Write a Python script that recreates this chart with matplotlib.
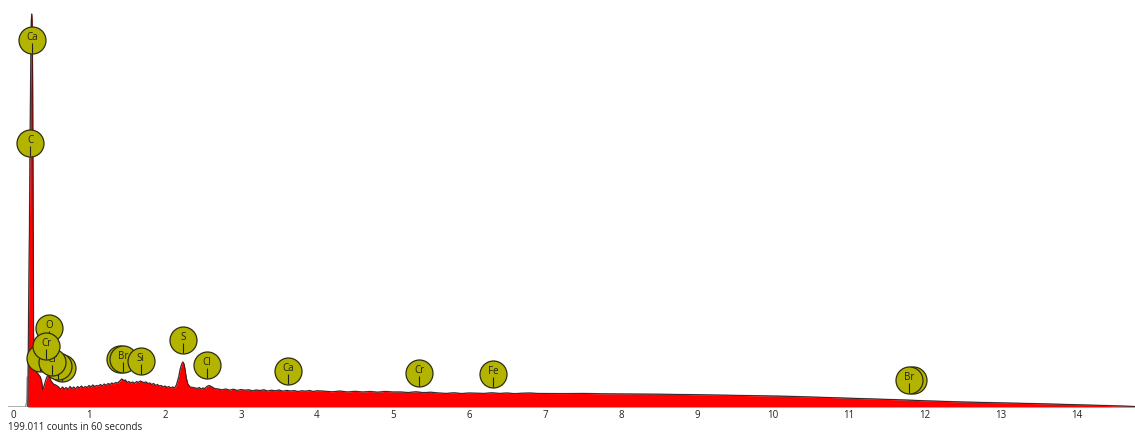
import matplotlib
matplotlib.use("Agg")
import matplotlib.pyplot as plt

# Spectrum: energy (keV) and counts per channel
energy_kev = [
    -0.066, 0.165, 0.180, 0.190, 0.196, 0.199, 0.203, 0.215, 0.228, 0.240, 0.246,
    0.252, 0.258, 0.262, 0.266, 0.270, 0.280, 0.290, 0.300, 0.320, 0.340, 0.360,
    0.380, 0.390, 0.400, 0.420, 0.440, 0.460, 0.480, 0.500, 0.530, 0.560, 0.600,
    0.625, 0.650, 0.675, 0.700, 0.725, 0.750, 0.775, 0.800, 0.825, 0.850, 0.875,
    0.900, 0.925, 0.950, 0.975, 1.000, 1.025, 1.050, 1.075, 1.100, 1.125, 1.150,
    1.175, 1.200, 1.225, 1.250, 1.275, 1.300, 1.325, 1.350, 1.375, 1.400, 1.430,
    1.460, 1.480, 1.500, 1.525, 1.550, 1.575, 1.600, 1.625, 1.650, 1.675, 1.700,
    1.725, 1.750, 1.775, 1.800, 1.825, 1.850, 1.875, 1.900, 1.925, 1.950, 1.975,
    2.000, 2.025, 2.050, 2.075, 2.100, 2.125, 2.150, 2.180, 2.200, 2.220, 2.235,
    2.250, 2.265, 2.280, 2.300, 2.330, 2.370, 2.400, 2.425, 2.450, 2.475, 2.500,
    2.525, 2.550, 2.580, 2.620, 2.650, 2.700, 2.750, 2.800, 2.850, 2.900, 2.950,
    3.000, 3.050, 3.100, 3.150, 3.200, 3.250, 3.300, 3.350, 3.400, 3.450, 3.500,
    3.550, 3.600, 3.650, 3.700, 3.750, 3.800, 3.850, 3.900, 3.950, 4.000, 4.100,
    4.200, 4.300, 4.400, 4.500, 4.600, 4.700, 4.800, 4.900, 5.000, 5.100, 5.200,
    5.300, 5.400, 5.500, 5.600, 5.700, 5.800, 5.900, 6.000, 6.100, 6.200, 6.300,
    6.400, 6.500, 6.600, 6.700, 6.800, 6.900, 7.000, 7.250, 7.500, 7.750, 8.000,
    8.250, 8.500, 8.750, 9.000, 9.250, 9.500, 9.750, 10.000, 10.250, 10.500, 10.750,
    11.000, 11.250, 11.500, 11.750, 12.000, 12.250, 12.500, 12.750, 13.000, 13.250,
    13.500, 13.750, 14.000, 14.250, 14.500, 14.763,
]
counts = [
    0, 0, 50, 300, 0, 400, 800, 1700, 3000, 3850, 3930,
    3850, 3300, 2500, 1700, 740, 450, 380, 360, 340, 320, 300,
    240, 170, 190, 240, 290, 320, 300, 260, 230, 220, 200,
    175, 200, 180, 195, 175, 205, 185, 200, 180, 205, 190,
    210, 190, 205, 195, 215, 200, 220, 205, 215, 210, 225,
    210, 230, 215, 235, 225, 240, 230, 245, 240, 255, 280,
    265, 270, 245, 255, 240, 250, 235, 255, 245, 260, 250,
    245, 250, 235, 240, 225, 235, 215, 225, 210, 215, 200,
    210, 195, 205, 190, 200, 190, 220, 300, 380, 430, 450,
    430, 370, 290, 230, 200, 195, 190, 185, 195, 180, 190,
    185, 205, 215, 200, 185, 180, 172, 180, 168, 178, 165,
    175, 168, 172, 162, 170, 165, 172, 160, 168, 162, 170,
    158, 166, 160, 164, 155, 162, 158, 165, 155, 162, 158,
    152, 160, 150, 157, 150, 155, 148, 156, 150, 150, 145,
    152, 144, 148, 140, 136, 142, 135, 140, 138, 136, 142,
    136, 140, 134, 138, 140, 136, 135, 134, 136, 132, 131,
    130, 128, 126, 123, 120, 117, 113, 110, 106, 100, 95,
    88, 82, 76, 70, 62, 56, 50, 46, 42, 37,
    33, 28, 24, 18, 12, 5,
]

# Element markers: label, energy (keV), marker height (counts); later entries
# sit on top, and markers fully covered by a neighbour carry no text
marker_labels = ["Ca", "C", "", "", "", "O", "Cr", "Cr",
                 "", "Br", "Si", "S", "Cl", "Ca", "Cr", "Fe", "", "Br"]
marker_kev = [0.250, 0.224, 0.645, 0.590, 0.355, 0.470, 0.515, 0.435,
              1.41, 1.447, 1.680, 2.237, 2.553, 3.618, 5.342, 6.316, 11.84, 11.79]
marker_counts = [3670, 2640, 390, 410, 490, 790, 450, 610,
                 480, 480, 460, 670, 420, 360, 340, 330, 270, 270]

tick_values = list(range(0, 15))
footer_text = "199.011 counts in 60 seconds"

FILL_START = 0.196
W, H, DPI = 1135, 432, 100

fig = plt.figure(figsize=(W / DPI, H / DPI), dpi=DPI)
ax = fig.add_axes([8 / W, 25 / H, (W - 8) / W, 400 / H])
ax.set_xlim(-0.066, 14.763)
ax.set_ylim(0, 4000)
counts_per_px = 4000 / 400

# grey trace (full range) underneath, red filled spectrum with dark outline on top
ax.plot(energy_kev, counts, color="#8c8c8c", lw=1.0, zorder=2)
fill_x = [e for e in energy_kev if e >= FILL_START]
fill_y = [c for e, c in zip(energy_kev, counts) if e >= FILL_START]
ax.fill_between(fill_x, 0, fill_y, color="#ff0000", lw=0, zorder=3)
ax.plot(fill_x, fill_y, color="#2a1a1a", lw=0.6, zorder=4)

# element identification circles
for i, (lab, ex, ey) in enumerate(zip(marker_labels, marker_kev, marker_counts)):
    z = 10 + i * 2
    ax.scatter([ex], [ey], s=(27 * 0.72) ** 2, color="#b3b400",
               edgecolors="#2e2e10", linewidths=0.9, zorder=z)
    ax.plot([ex, ex], [ey - 3 * counts_per_px, ey - 13 * counts_per_px],
            color="#222222", lw=0.8, zorder=z + 1, solid_capstyle="butt")
    if lab:
        ax.text(ex, ey + 2.5 * counts_per_px, lab, ha="center", va="center",
                fontsize=7, family="Open Sans", color="#1e1e1e", zorder=z + 1)

for s in ax.spines.values():
    s.set_visible(False)
ax.set_yticks([])
ax.set_xticks(tick_values)
ax.set_xticklabels([str(t) for t in tick_values], fontsize=7,
                   family="Open Sans", color="#222222")
ax.tick_params(axis="x", length=0, pad=2)

fig.text(8 / W, 1 - 427 / H, footer_text, ha="left", va="center",
         fontsize=7, family="Open Sans", color="#222222")

fig.savefig("out.png", dpi=DPI)
